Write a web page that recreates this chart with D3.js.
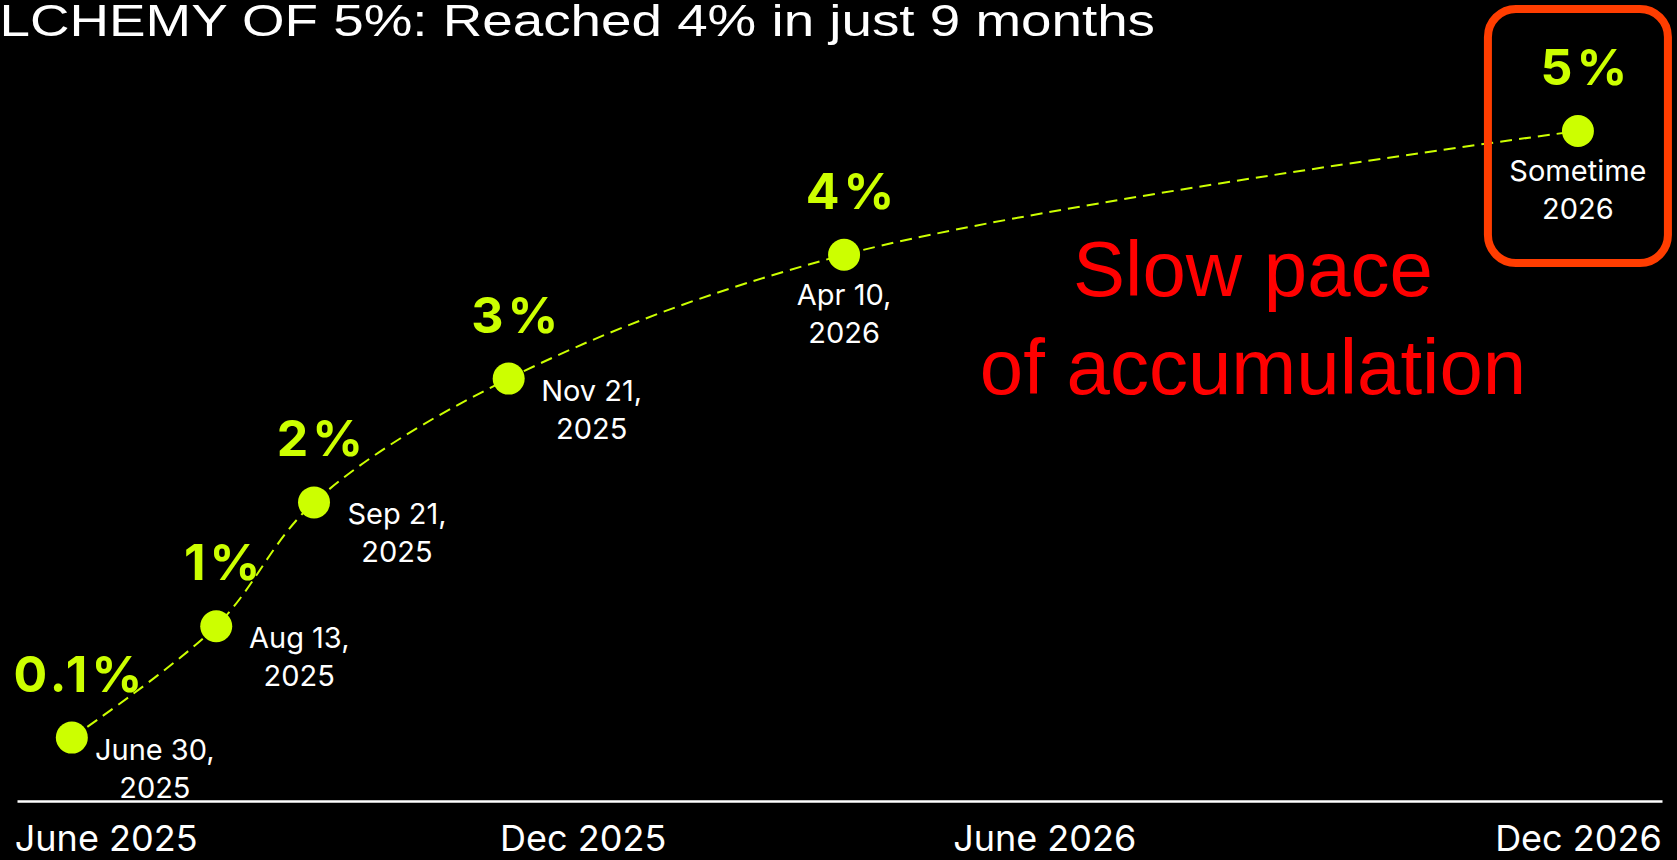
<!DOCTYPE html>
<meta charset='utf-8'>

<head>
  <style>
    body { margin: 0; background: #000; overflow: hidden; }
    .axis text { font: 36px Inter, sans-serif; fill: #fff; }
    .axis path { stroke: #fff; stroke-width: 2.5; }
    .pct { font: 700 50px Inter, sans-serif; fill: #ccff00; letter-spacing: 4px; }
    .date { font: 29px Inter, sans-serif; fill: #fff; }
    .note { font: 78px 'Liberation Sans', Arial, sans-serif; fill: #ff0000; }
    .title { font: 45px 'Liberation Sans', Arial, sans-serif; fill: #fff; }
  </style>
</head>

<body>

<script src='https://d3js.org/d3.v7.min.js'></script>

<script>

var pctValues = [0.1, 1, 2, 3, 4, 5];
var pctLabels = ['0.1%', '1%', '2%', '3%', '4%', '5%'];
var dateLine1 = ['June 30,', 'Aug 13,', 'Sep 21,', 'Nov 21,', 'Apr 10,', 'Sometime'];
var dateLine2 = ['2025', '2025', '2025', '2025', '2026', '2026'];
// where each milestone sits on the time axis, months after June 2025 (as drawn)
var monthPos = [0.6, 2.18, 3.25, 5.38, 9.05, 17.08];
var tickPos = [0.97, 6.19, 11.24, 17.08];
var tickLabels = ['June 2025', 'Dec 2025', 'June 2026', 'Dec 2026'];

var width = 1677, height = 860;
var green = '#ccff00';

var x = d3.scaleLinear().domain([0, 18]).range([17, 1662]),
    y = d3.scaleLinear().domain([0, 5]).range([750, 131]);

var data = pctValues.map((v, i) => ({
  v: v, m: monthPos[i], label: pctLabels[i], d1: dateLine1[i], d2: dateLine2[i]
}));

var svg = d3.select('body').append('svg')
    .attr('width', width)
    .attr('height', height)
    .style('background', '#000');

// title, cut at the left edge like the slide
svg.append('text')
    .attr('class', 'title')
    .attr('x', -37)
    .attr('y', 36)
    .attr('textLength', 1192)
    .attr('lengthAdjust', 'spacingAndGlyphs')
    .text('ALCHEMY OF 5%: Reached 4% in just 9 months');

// axis
var xAxis = d3.axisBottom(x)
    .tickValues(tickPos)
    .tickFormat((d, i) => tickLabels[i])
    .tickSize(0)
    .tickPadding(24);

svg.append('g')
    .attr('class', 'axis')
    .attr('transform', 'translate(0,801)')
    .call(xAxis);

// dashed trend
var line = d3.line()
    .x(d => x(d.m))
    .y(d => y(d.v))
    .curve(d3.curveCatmullRom.alpha(0.5));

svg.append('path')
    .datum(data)
    .attr('d', line)
    .attr('fill', 'none')
    .attr('stroke', green)
    .attr('stroke-width', 2)
    .attr('stroke-dasharray', '12,7');

// highlight box round the last milestone
var last = data[data.length - 1];
svg.append('rect')
    .attr('x', x(last.m) - 90)
    .attr('y', 9)
    .attr('width', 180)
    .attr('height', 254)
    .attr('rx', 28)
    .attr('fill', 'none')
    .attr('stroke', '#ff3d00')
    .attr('stroke-width', 8);

svg.selectAll('.dot')
    .data(data)
  .enter().append('circle')
    .attr('class', 'dot')
    .attr('cx', d => x(d.m))
    .attr('cy', d => y(d.v))
    .attr('r', 16)
    .attr('fill', green);

svg.selectAll('.pct')
    .data(data)
  .enter().append('text')
    .attr('class', 'pct')
    .attr('x', d => x(d.m) + 8)
    .attr('y', d => y(d.v) - 46)
    .attr('text-anchor', 'middle')
    .text(d => d.label);

// dates: first four sit to the lower right, the rest underneath
var dates = svg.selectAll('.date')
    .data(data)
  .enter().append('text')
    .attr('class', 'date')
    .attr('text-anchor', 'middle')
    .attr('transform', (d, i) => i < 4
      ? 'translate(' + (x(d.m) + 83) + ',' + (y(d.v) + 22) + ')'
      : 'translate(' + x(d.m) + ',' + (y(d.v) + 50) + ')');

dates.append('tspan').attr('x', 0).attr('y', 0).text(d => d.d1);
dates.append('tspan').attr('x', 0).attr('y', 38).text(d => d.d2);

svg.append('text')
    .attr('class', 'note')
    .attr('text-anchor', 'middle')
    .attr('x', 1253)
    .attr('y', 296)
    .text('Slow pace');

svg.append('text')
    .attr('class', 'note')
    .attr('text-anchor', 'middle')
    .attr('x', 1253)
    .attr('y', 394)
    .text('of accumulation');

</script>

</body>
